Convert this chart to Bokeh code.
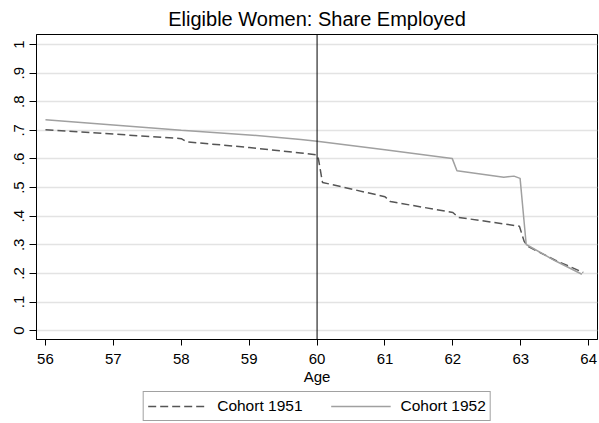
from bokeh.plotting import figure
from bokeh.layouts import column
from bokeh.models import (ColumnDataSource, Span, FixedTicker, Legend, LegendItem)
from bokeh.embed import file_html
from bokeh.resources import INLINE

# Data
age_1951 = [56.0, 57.0, 58.0, 58.08, 59.0, 59.76, 60.0, 60.02, 60.08, 61.0, 61.08,
            62.0, 62.08, 62.98, 63.05, 63.1, 63.5, 63.92]
emp_1951 = [0.702, 0.687, 0.671, 0.660, 0.640, 0.621, 0.614, 0.600, 0.518, 0.468, 0.451,
            0.413, 0.396, 0.365, 0.312, 0.295, 0.247, 0.203]

age_1952 = [56.0, 57.0, 58.0, 59.0, 59.76, 60.0, 61.0, 61.99, 62.06, 62.75, 62.9,
            62.99, 63.08, 63.5, 63.9]
emp_1952 = [0.737, 0.719, 0.700, 0.684, 0.668, 0.662, 0.632, 0.602, 0.559, 0.536, 0.540,
            0.532, 0.301, 0.245, 0.197]

x_ticks = [56, 57, 58, 59, 60, 61, 62, 63, 64]
y_ticks = [0, 0.1, 0.2, 0.3, 0.4, 0.5, 0.6, 0.7, 0.8, 0.9, 1.0]
y_tick_labels = ["0", ".1", ".2", ".3", ".4", ".5", ".6", ".7", ".8", ".9", "1"]
cutoff_age = 60

title_text = "Eligible Women: Share Employed"
legend_labels = ["Cohort 1951", "Cohort 1952"]

FONT = "Liberation Sans"
STYLE_51 = dict(line_color="#555555", line_width=1.5, line_dash="8 4")
STYLE_52 = dict(line_color="#a0a0a0", line_width=1.5)

p = figure(width=599, height=388, output_backend="svg", toolbar_location=None,
           x_range=(55.868, 64.13), y_range=(-0.031, 1.035),
           min_border_left=36, min_border_right=2, min_border_top=32,
           min_border_bottom=49)

p.title.text = title_text
p.title.align = "center"
p.title.text_font = FONT
p.title.text_font_size = "20px"
p.title.text_font_style = "normal"
p.title.text_color = "black"

src51 = ColumnDataSource(dict(x=age_1951, y=emp_1951))
src52 = ColumnDataSource(dict(x=age_1952, y=emp_1952))

p.line("x", "y", source=src51, **STYLE_51)
p.line("x", "y", source=src52, **STYLE_52)

p.add_layout(Span(location=cutoff_age, dimension="height", line_color="black",
                  line_width=1))

# axes
p.xaxis.ticker = FixedTicker(ticks=x_ticks)
p.yaxis.ticker = FixedTicker(ticks=y_ticks)
p.yaxis.major_label_overrides = {t: l for t, l in zip(y_ticks, y_tick_labels)}
p.yaxis.major_label_orientation = "vertical"
p.xaxis.axis_label = "Age"
for ax in (p.xaxis, p.yaxis):
    ax.major_label_text_font = FONT
    ax.major_label_text_font_size = "15px"
    ax.major_label_text_color = "black"
    ax.axis_label_text_font = FONT
    ax.axis_label_text_font_size = "15px"
    ax.axis_label_text_font_style = "normal"
    ax.axis_label_text_color = "black"
    ax.minor_tick_line_color = None
    ax.major_tick_in = 0
    ax.axis_line_color = "black"
    ax.major_tick_line_color = "black"
p.xaxis.major_tick_out = 6
p.yaxis.major_tick_out = 7
p.xaxis.major_label_standoff = 8
p.yaxis.major_label_standoff = 5
p.xaxis.axis_label_standoff = 1

p.xgrid.grid_line_color = None
p.ygrid.grid_line_color = "#e3e3e3"
p.ygrid.grid_line_width = 1.5

p.outline_line_color = "black"
p.outline_line_width = 1
p.background_fill_color = "white"
p.border_fill_color = "white"

# legend strip below the chart (its own figure; sample lines are kept out of view)
lf = figure(width=599, height=35, output_backend="svg", toolbar_location=None,
            x_range=(0, 1), y_range=(0, 1),
            min_border_left=36, min_border_right=2, min_border_top=0,
            min_border_bottom=0)
lf.axis.visible = False
lf.grid.visible = False
lf.outline_line_color = None
lf.background_fill_color = "white"
lf.border_fill_color = "white"
l51 = lf.line("x", "y", source=src51, **STYLE_51)
l52 = lf.line("x", "y", source=src52, **STYLE_52)

legend = Legend(items=[LegendItem(label=legend_labels[0], renderers=[l51]),
                       LegendItem(label=legend_labels[1], renderers=[l52])],
                orientation="horizontal", location="center")
legend.label_text_font = FONT
legend.label_text_font_size = "15.5px"
legend.label_text_color = "black"
legend.glyph_width = 60
legend.glyph_height = 20
legend.label_height = 20
legend.label_standoff = 10
legend.spacing = 28
legend.padding = 4
legend.margin = 0
legend.border_line_color = "#444444"
legend.border_line_width = 1
lf.add_layout(legend, "center")

layout = column(p, lf, spacing=0)
open("out.html", "w").write(file_html(layout, INLINE))
